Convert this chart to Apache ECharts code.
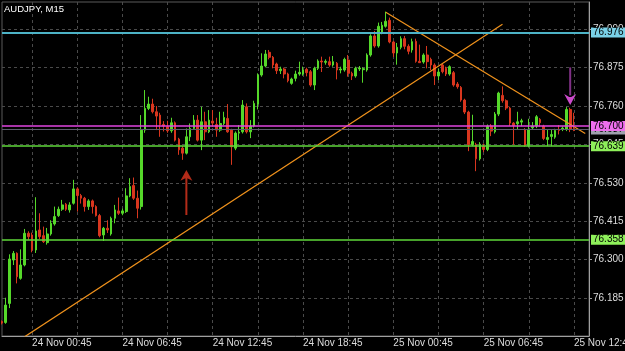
<!DOCTYPE html>
<html><head><meta charset="utf-8">
<script src="https://cdn.jsdelivr.net/npm/echarts@6/dist/echarts.min.js"></script>
<style>html,body{margin:0;padding:0;background:#000;}#c{width:625px;height:351px;}</style>
</head><body><div id="c"></div>
<script>
const chartTitle = 'AUDJPY, M15';
const startDay = 23, startHour = 22, startMinute = 45, barMinutes = 15, categoryCount = 157;

const opens = [76.115,76.112,76.169,76.299,76.319,76.244,76.284,76.379,76.374,76.329,
76.389,76.372,76.351,76.377,76.407,76.432,76.451,76.466,76.449,76.469,
76.512,76.492,76.484,76.459,76.476,76.459,76.432,76.374,76.394,76.377,
76.424,76.446,76.439,76.444,76.491,76.522,76.484,76.459,76.688,76.753,
76.766,76.743,76.733,76.705,76.698,76.686,76.710,76.661,76.634,76.619,
76.668,76.693,76.718,76.658,76.713,76.683,76.715,76.705,76.688,76.708,
76.723,76.688,76.634,76.679,76.683,76.758,76.683,76.700,76.766,76.853,
76.880,76.921,76.906,76.886,76.866,76.871,76.856,76.828,76.843,76.856,
76.856,76.870,76.863,76.823,76.873,76.895,76.891,76.893,76.883,76.888,
76.868,76.868,76.898,76.858,76.850,76.871,76.869,76.868,76.913,76.970,
76.940,76.979,76.999,77.017,76.952,76.919,76.936,76.962,76.939,76.928,
76.954,76.894,76.892,76.913,76.900,76.883,76.850,76.883,76.873,76.856,
76.860,76.826,76.816,76.778,76.742,76.644,76.644,76.602,76.640,76.630,
76.700,76.683,76.736,76.792,76.776,76.754,76.709,76.707,76.712,76.689,
76.642,76.695,76.700,76.720,76.700,76.660,76.669,76.667,76.690,76.690,
76.690,76.750,76.692];
const closes = [76.110,76.164,76.302,76.319,76.249,76.284,76.379,76.369,76.329,76.386,
76.369,76.354,76.377,76.409,76.429,76.451,76.464,76.451,76.464,76.512,
76.492,76.484,76.459,76.476,76.459,76.432,76.372,76.394,76.389,76.424,
76.449,76.439,76.446,76.491,76.519,76.484,76.454,76.688,76.753,76.766,
76.743,76.730,76.705,76.700,76.686,76.710,76.658,76.629,76.619,76.668,
76.693,76.718,76.658,76.713,76.683,76.718,76.709,76.688,76.708,76.726,
76.683,76.638,76.679,76.682,76.763,76.683,76.700,76.768,76.853,76.880,
76.916,76.906,76.883,76.866,76.871,76.856,76.836,76.841,76.856,76.861,
76.868,76.860,76.823,76.873,76.895,76.892,76.894,76.883,76.893,76.868,
76.871,76.900,76.858,76.850,76.873,76.874,76.872,76.913,76.970,76.940,
76.999,77.002,77.014,76.952,76.919,76.936,76.962,76.939,76.924,76.953,
76.894,76.890,76.913,76.893,76.883,76.850,76.862,76.863,76.856,76.878,
76.823,76.818,76.778,76.742,76.644,76.654,76.602,76.646,76.630,76.700,
76.685,76.736,76.799,76.776,76.754,76.709,76.702,76.713,76.716,76.642,
76.689,76.700,76.728,76.710,76.663,76.666,76.675,76.687,76.687,76.694,
76.750,76.690,76.687];
const lows = [76.106,76.108,76.155,76.284,76.229,76.240,76.280,76.360,76.322,76.320,
76.362,76.350,76.345,76.372,76.402,76.428,76.446,76.446,76.441,76.465,
76.444,76.468,76.444,76.449,76.438,76.429,76.367,76.356,76.380,76.372,
76.409,76.434,76.433,76.440,76.487,76.479,76.424,76.450,76.680,76.748,
76.738,76.688,76.668,76.684,76.680,76.680,76.654,76.614,76.599,76.615,
76.655,76.690,76.654,76.628,76.658,76.679,76.698,76.668,76.683,76.703,
76.680,76.584,76.628,76.658,76.678,76.678,76.664,76.696,76.750,76.848,
76.876,76.900,76.873,76.856,76.856,76.843,76.831,76.824,76.834,76.851,
76.851,76.849,76.818,76.808,76.868,76.862,76.884,76.878,76.878,76.840,
76.858,76.863,76.848,76.838,76.845,76.865,76.830,76.863,76.908,76.935,
76.935,76.975,76.995,76.948,76.907,76.884,76.930,76.930,76.915,76.920,
76.890,76.889,76.887,76.873,76.868,76.823,76.838,76.858,76.850,76.851,
76.818,76.812,76.773,76.736,76.625,76.640,76.565,76.597,76.622,76.625,
76.670,76.678,76.730,76.770,76.748,76.700,76.644,76.690,76.700,76.638,
76.636,76.690,76.694,76.698,76.658,76.640,76.640,76.662,76.675,76.685,
76.685,76.682,76.685];
const highs = [76.118,76.186,76.316,76.326,76.322,76.331,76.392,76.385,76.381,76.487,
76.439,76.399,76.395,76.418,76.459,76.459,76.479,76.470,76.472,76.539,
76.517,76.497,76.488,76.481,76.480,76.463,76.437,76.398,76.418,76.429,
76.464,76.486,76.453,76.514,76.544,76.546,76.507,76.733,76.808,76.788,
76.782,76.760,76.740,76.715,76.716,76.725,76.714,76.665,76.640,76.693,
76.708,76.733,76.733,76.758,76.743,76.748,76.748,76.725,76.743,76.743,
76.766,76.692,76.684,76.703,76.778,76.768,76.718,76.776,76.858,76.918,
76.928,76.928,76.910,76.890,76.878,76.875,76.860,76.845,76.866,76.893,
76.878,76.875,76.868,76.878,76.900,76.908,76.900,76.908,76.910,76.892,
76.878,76.905,76.913,76.863,76.878,76.880,76.876,76.918,76.975,76.985,
77.010,77.012,77.043,77.025,76.955,76.949,76.969,76.970,76.945,76.962,
76.962,76.944,76.918,76.940,76.905,76.888,76.872,76.888,76.878,76.882,
76.865,76.832,76.820,76.782,76.746,76.734,76.650,76.652,76.648,76.705,
76.706,76.742,76.803,76.819,76.780,76.758,76.712,76.743,76.722,76.694,
76.722,76.712,76.733,76.724,76.704,76.690,76.690,76.692,76.703,76.699,
76.757,76.755,76.740];

const priceTicks = [76.185, 76.300, 76.415, 76.530, 76.645, 76.760, 76.875, 76.990];
const priceMin = 76.0714, priceMax = 77.0717;
const timeLabels = ['24 Nov 00:45','24 Nov 06:45','24 Nov 12:45','24 Nov 18:45','25 Nov 00:45','25 Nov 06:45','25 Nov 12:45'];
const gridTimes = ['24 Nov 00:45','24 Nov 03:45','24 Nov 06:45','24 Nov 09:45','24 Nov 12:45','24 Nov 15:45','24 Nov 18:45','24 Nov 21:45','25 Nov 00:45','25 Nov 03:45','25 Nov 06:45','25 Nov 09:45','25 Nov 12:45'];

const levelPrices = [76.976, 76.358, 76.639, 76.687, 76.700];
const levelLineColors = ['#4db3c6', '#5fd83a', '#5fd83a', '#5c5c6c', '#e045e0'];
const levelTagColors = ['#79d0e6', '#8ef05a', '#8ef05a', '#a0a0ae', '#ee6eee'];

const trendLineA = [[102, 77.041], [155, 76.678]];
const trendLineB = [[6, 76.069], [133, 77.005]];
const arrowUp = [[49, 76.501]];
const arrowDownShaft = [[151, 76.834]];
const arrowDownHead = [[151, 76.780]];

function pad(n){ return (n < 10 ? '0' : '') + n; }
const categories = [];
{ let d = startDay, h = startHour, m = startMinute;
  for (let i = 0; i < categoryCount; i++) {
    categories.push(d + ' Nov ' + pad(h) + ':' + pad(m));
    m += barMinutes; if (m >= 60) { m -= 60; h++; if (h >= 24) { h = 0; d++; } }
  } }
const candles = opens.map((o, i) => [o, closes[i], lows[i], highs[i]]);

const FONT = 'Liberation Sans, Arial, sans-serif';
const chart = echarts.init(document.getElementById('c'), null, {renderer: 'canvas'});
chart.setOption({
  animation: false,
  backgroundColor: '#000000',
  title: { text: chartTitle, left: 4, top: 4, padding: 0, textStyle: { color: '#ffffff', fontSize: 9.5, fontWeight: 'normal', fontFamily: FONT } },
  grid: { left: 2, right: 36, top: 2, bottom: 15, show: true, borderColor: '#5a5a5a', borderWidth: 1, containLabel: false, outerBoundsMode: 'none' },
  xAxis: {
    type: 'category', data: categories, boundaryGap: false,
    axisLine: { lineStyle: { color: '#a0a0a0', width: 1 } },
    axisTick: { show: false },
    axisLabel: { interval: (i, v) => timeLabels.indexOf(v) >= 0, align: 'left', color: '#dddddd', fontSize: 10, fontFamily: FONT, margin: 2, hideOverlap: false },
    splitLine: { show: true, interval: (i, v) => gridTimes.indexOf(v) >= 0, lineStyle: { color: '#4a4a4a', type: [3, 3], width: 1 } }
  },
  yAxis: {
    type: 'value', position: 'right', min: priceMin, max: priceMax, scale: true,
    axisLine: { show: true, lineStyle: { color: '#a0a0a0', width: 1 } },
    axisTick: { show: true, length: 3, customValues: priceTicks, lineStyle: { color: '#a0a0a0' } },
    axisLabel: { customValues: priceTicks, formatter: v => v.toFixed(3), color: '#dddddd', fontSize: 10, fontFamily: FONT, margin: 4 },
    splitLine: { show: true, lineStyle: { color: '#4a4a4a', type: [3, 3], width: 1 } }
  },
  series: [
    {
      type: 'candlestick', data: candles, barWidth: 2.2, z: 3,
      itemStyle: { color: '#55d82a', color0: '#d8361e', borderColor: '#55d82a', borderColor0: '#d8361e', borderWidth: 1 },
      markLine: {
        silent: true, symbol: ['none', 'none'], animation: false,
        data: levelPrices.map((p, i) => ({
          yAxis: p,
          lineStyle: { color: levelLineColors[i], width: i === 0 ? 2 : (i === 3 ? 1 : 1.5), type: 'solid' },
          label: { show: true, position: 'end', distance: 2, formatter: p.toFixed(3), color: '#000000', fontSize: 10, fontFamily: FONT,
                   backgroundColor: levelTagColors[i], padding: [0, 2, 0, 2], lineHeight: 10 }
        }))
      }
    },
    { type: 'line', data: trendLineA, showSymbol: false, silent: true, z: 4, lineStyle: { color: '#f0921c', width: 1.2 } },
    { type: 'line', data: trendLineB, showSymbol: false, silent: true, z: 4, lineStyle: { color: '#f0921c', width: 1.2 } },
    { type: 'scatter', data: arrowUp, silent: true, z: 5, symbol: 'path://M6,0 L12,11 L7,8.5 L7,46 L5,46 L5,8.5 L0,11 Z', symbolSize: [12, 45], itemStyle: { color: '#e0361f' } },
    { type: 'scatter', data: arrowDownShaft, silent: true, z: 5, symbol: 'rect', symbolSize: [2, 28], itemStyle: { color: '#a03ca8' } },
    { type: 'scatter', data: arrowDownHead, silent: true, z: 6, symbol: 'path://M0,0 L5,3 L7,3 L12,0 L6,11 Z', symbolSize: [12, 11], itemStyle: { color: '#ff5cff' } }
  ]
});
</script></body></html>
